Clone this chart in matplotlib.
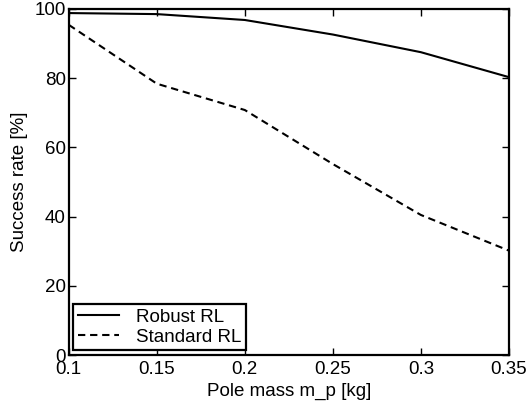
import matplotlib
matplotlib.use("Agg")
import matplotlib.pyplot as plt

pole_mass = [0.1, 0.15, 0.2, 0.25, 0.3, 0.35]
robust_rl = [98.8, 98.5, 96.8, 92.6, 87.5, 80.3]
standard_rl = [95.4, 78.4, 70.8, 55.2, 40.5, 30.2]

plt.rcParams['font.family'] = ['Liberation Sans', 'DejaVu Sans']
plt.rcParams['font.size'] = 13.5

fig = plt.figure(figsize=(5.29, 4.05), dpi=100)
ax = fig.add_axes([0.130, 0.123, 0.832, 0.855])

ax.plot(pole_mass, robust_rl, color='black', linestyle='-', linewidth=1.5, label='Robust RL')
ax.plot(pole_mass, standard_rl, color='black', linestyle=(0, (3.5, 2.3)), linewidth=1.5, label='Standard RL')

ax.set_xlim(0.1, 0.35)
ax.set_ylim(0, 100)
ax.set_xticks(pole_mass)
ax.set_xticklabels(['0.1', '0.15', '0.2', '0.25', '0.3', '0.35'])
ax.set_yticks([0, 20, 40, 60, 80, 100])
ax.tick_params(direction='in', top=True, right=True, length=5, width=1)
ax.tick_params(axis='x', pad=4)
ax.tick_params(axis='y', pad=2)
for s in ax.spines.values():
    s.set_linewidth(1.6)

ax.set_xlabel('Pole mass m_p [kg]', labelpad=4)
ax.set_ylabel('Success rate [%]', labelpad=5)

leg = ax.legend(loc='lower left', borderaxespad=0.25, handlelength=2.2,
                fancybox=False, framealpha=1, edgecolor='black',
                borderpad=0.25, labelspacing=0.15, handletextpad=0.9)
leg.get_frame().set_linewidth(1.6)

fig.savefig('out.png', dpi=100)
